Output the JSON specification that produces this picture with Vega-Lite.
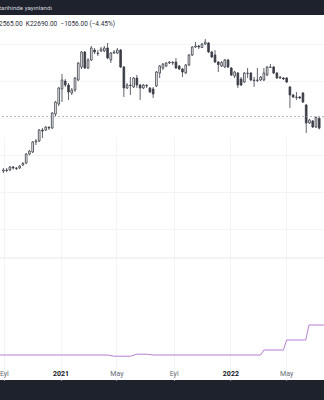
{
  "$schema": "https://vega.github.io/schema/vega-lite/v6.json",
  "width": 324,
  "height": 365,
  "autosize": {"type": "none"},
  "padding": {"top": 15, "bottom": 20, "left": 0, "right": 0},
  "background": "#1e222d",
  "config": {"view": {"fill": "#ffffff", "stroke": null}, "font": "Roboto"},
  "title": {
    "text": "tarihinde yayınlandı",
    "subtitle": "2565.00\u00a0\u00a0K22690.00\u00a0\u00a0−1056.00 (−4.45%)",
    "anchor": "start",
    "frame": "group",
    "align": "left",
    "offset": -12,
    "dx": -1,
    "font": "Roboto",
    "fontSize": 6.2,
    "fontWeight": "normal",
    "color": "#d1d4dc",
    "subtitleFont": "Roboto",
    "subtitleFontSize": 6.5,
    "subtitleColor": "#2a2e39",
    "subtitlePadding": 9
  },
  "datasets": {
    "candles": [
      {"d":"2020-08-31","o":18400,"h":18700,"l":18200,"c":18500},
      {"d":"2020-09-07","o":18500,"h":18700,"l":18300,"c":18450},
      {"d":"2020-09-14","o":18500,"h":18900,"l":18400,"c":18800},
      {"d":"2020-09-21","o":18800,"h":18900,"l":18550,"c":18700},
      {"d":"2020-09-28","o":18700,"h":18800,"l":18500,"c":18650},
      {"d":"2020-10-05","o":18700,"h":19000,"l":18600,"c":18900},
      {"d":"2020-10-12","o":19000,"h":19300,"l":18900,"c":19150},
      {"d":"2020-10-19","o":19200,"h":20200,"l":19100,"c":20100},
      {"d":"2020-10-26","o":20100,"h":20500,"l":19950,"c":20400},
      {"d":"2020-11-02","o":20300,"h":21400,"l":20200,"c":21300},
      {"d":"2020-11-09","o":21300,"h":21600,"l":21000,"c":21400},
      {"d":"2020-11-16","o":21400,"h":22600,"l":21300,"c":22500},
      {"d":"2020-11-23","o":22500,"h":22700,"l":21700,"c":22400},
      {"d":"2020-11-30","o":22500,"h":22900,"l":22400,"c":22800},
      {"d":"2020-12-07","o":22750,"h":22900,"l":22500,"c":22700},
      {"d":"2020-12-14","o":22700,"h":24300,"l":22600,"c":24200},
      {"d":"2020-12-21","o":24100,"h":25400,"l":23900,"c":25300},
      {"d":"2020-12-28","o":25100,"h":26800,"l":24900,"c":26700},
      {"d":"2021-01-04","o":26600,"h":28100,"l":25300,"c":27500},
      {"d":"2021-01-11","o":27400,"h":27600,"l":26800,"c":27000},
      {"d":"2021-01-18","o":27000,"h":27200,"l":25500,"c":26300},
      {"d":"2021-01-25","o":26200,"h":26700,"l":26000,"c":26500},
      {"d":"2021-02-01","o":26500,"h":27800,"l":26300,"c":27700},
      {"d":"2021-02-08","o":27500,"h":29300,"l":27400,"c":29200},
      {"d":"2021-02-15","o":28800,"h":30400,"l":28600,"c":30300},
      {"d":"2021-02-22","o":30300,"h":30400,"l":28600,"c":28700},
      {"d":"2021-03-01","o":28700,"h":29700,"l":28600,"c":29500},
      {"d":"2021-03-08","o":29500,"h":30900,"l":29400,"c":30700},
      {"d":"2021-03-15","o":30500,"h":30700,"l":30100,"c":30300},
      {"d":"2021-03-22","o":30200,"h":30500,"l":29900,"c":30150},
      {"d":"2021-03-29","o":30400,"h":30800,"l":30300,"c":30600},
      {"d":"2021-04-05","o":30400,"h":30900,"l":30300,"c":30700},
      {"d":"2021-04-12","o":30700,"h":31200,"l":29600,"c":29700},
      {"d":"2021-04-19","o":29500,"h":30300,"l":29200,"c":30200},
      {"d":"2021-04-26","o":30200,"h":30500,"l":30100,"c":30300},
      {"d":"2021-05-03","o":30200,"h":30700,"l":30100,"c":30500},
      {"d":"2021-05-10","o":30500,"h":30600,"l":28700,"c":28800},
      {"d":"2021-05-17","o":28800,"h":28900,"l":25800,"c":26700},
      {"d":"2021-05-24","o":26700,"h":27200,"l":26600,"c":27000},
      {"d":"2021-05-31","o":27000,"h":27800,"l":26000,"c":26950},
      {"d":"2021-06-07","o":26800,"h":27800,"l":26700,"c":27700},
      {"d":"2021-06-14","o":27700,"h":28000,"l":26700,"c":27000},
      {"d":"2021-06-21","o":27000,"h":27100,"l":25500,"c":26700},
      {"d":"2021-06-28","o":26700,"h":27100,"l":26600,"c":27000},
      {"d":"2021-07-05","o":26950,"h":27100,"l":26700,"c":26900},
      {"d":"2021-07-12","o":26700,"h":26800,"l":26200,"c":26300},
      {"d":"2021-07-19","o":26600,"h":26800,"l":25700,"c":26100},
      {"d":"2021-07-26","o":26900,"h":28400,"l":26800,"c":28300},
      {"d":"2021-08-02","o":28200,"h":29000,"l":27700,"c":28900},
      {"d":"2021-08-09","o":28700,"h":29200,"l":28500,"c":29100},
      {"d":"2021-08-16","o":28900,"h":29300,"l":28800,"c":29200},
      {"d":"2021-08-23","o":29200,"h":29400,"l":29100,"c":29300},
      {"d":"2021-08-30","o":29250,"h":29400,"l":29000,"c":29200},
      {"d":"2021-09-06","o":29300,"h":29700,"l":28600,"c":28700},
      {"d":"2021-09-13","o":28900,"h":29000,"l":28500,"c":28600},
      {"d":"2021-09-20","o":28600,"h":28700,"l":27800,"c":28300},
      {"d":"2021-09-27","o":28200,"h":29100,"l":28100,"c":29000},
      {"d":"2021-10-04","o":29000,"h":30100,"l":28900,"c":30000},
      {"d":"2021-10-11","o":30000,"h":30900,"l":29900,"c":30800},
      {"d":"2021-10-18","o":30800,"h":31300,"l":30700,"c":30900},
      {"d":"2021-10-25","o":30900,"h":31000,"l":30600,"c":30800},
      {"d":"2021-11-01","o":30750,"h":31200,"l":30700,"c":31100},
      {"d":"2021-11-08","o":31100,"h":31600,"l":31000,"c":31300},
      {"d":"2021-11-15","o":31200,"h":31300,"l":30200,"c":30300},
      {"d":"2021-11-22","o":30300,"h":30400,"l":29700,"c":29800},
      {"d":"2021-11-29","o":30000,"h":30500,"l":29200,"c":29300},
      {"d":"2021-12-06","o":29300,"h":29400,"l":28300,"c":29050},
      {"d":"2021-12-13","o":28900,"h":29400,"l":28800,"c":29250},
      {"d":"2021-12-20","o":28800,"h":29600,"l":28700,"c":29500},
      {"d":"2021-12-27","o":29500,"h":29600,"l":28700,"c":28800},
      {"d":"2022-01-03","o":28700,"h":28800,"l":27900,"c":28000},
      {"d":"2022-01-10","o":27900,"h":28400,"l":27700,"c":28300},
      {"d":"2022-01-17","o":28200,"h":28300,"l":26700,"c":27000},
      {"d":"2022-01-24","o":27600,"h":27800,"l":26900,"c":27000},
      {"d":"2022-01-31","o":27300,"h":28300,"l":27200,"c":28200},
      {"d":"2022-02-07","o":28150,"h":28700,"l":27700,"c":28200},
      {"d":"2022-02-14","o":28200,"h":28300,"l":27400,"c":27500},
      {"d":"2022-02-21","o":27500,"h":27800,"l":26800,"c":27450},
      {"d":"2022-02-28","o":27450,"h":28700,"l":27300,"c":27500},
      {"d":"2022-03-07","o":27500,"h":27900,"l":27400,"c":27800},
      {"d":"2022-03-14","o":27500,"h":28700,"l":27400,"c":28200},
      {"d":"2022-03-21","o":28000,"h":28900,"l":27900,"c":28800},
      {"d":"2022-03-28","o":28750,"h":29100,"l":28700,"c":28800},
      {"d":"2022-04-04","o":28800,"h":28900,"l":28100,"c":28200},
      {"d":"2022-04-11","o":28200,"h":28300,"l":27600,"c":27700},
      {"d":"2022-04-18","o":27700,"h":27900,"l":27600,"c":27800},
      {"d":"2022-04-25","o":27700,"h":27800,"l":27500,"c":27600},
      {"d":"2022-05-02","o":27700,"h":27800,"l":27200,"c":27300},
      {"d":"2022-05-09","o":26800,"h":26900,"l":24700,"c":26000},
      {"d":"2022-05-16","o":26000,"h":26100,"l":25700,"c":25800},
      {"d":"2022-05-23","o":25800,"h":26300,"l":25500,"c":25750},
      {"d":"2022-05-30","o":25800,"h":25900,"l":25600,"c":25700},
      {"d":"2022-06-06","o":26200,"h":26300,"l":25200,"c":25300},
      {"d":"2022-06-13","o":25000,"h":25100,"l":22200,"c":23200},
      {"d":"2022-06-20","o":23200,"h":23600,"l":23100,"c":23500},
      {"d":"2022-06-27","o":23400,"h":23500,"l":22700,"c":22800},
      {"d":"2022-07-04","o":22800,"h":23850,"l":22700,"c":23750},
      {"d":"2022-07-11","o":23650,"h":23850,"l":22565,"c":22690}
    ],
    "rate": [
      {"d":"2020-08-24","r":0.25},
      {"d":"2021-04-12","r":0.25},
      {"d":"2021-04-26","r":0.19},
      {"d":"2021-05-31","r":0.19},
      {"d":"2021-06-14","r":0.29},
      {"d":"2021-07-05","r":0.29},
      {"d":"2021-07-19","r":0.25},
      {"d":"2022-03-07","r":0.25},
      {"d":"2022-03-14","r":0.5},
      {"d":"2022-04-25","r":0.5},
      {"d":"2022-05-02","r":1.0},
      {"d":"2022-06-12","r":1.0},
      {"d":"2022-06-19","r":1.75},
      {"d":"2022-07-25","r":1.75}
    ]
  },
  "layer": [
    {
      "data": {"name": "candles"},
      "layer": [
        {
          "mark": {"type": "rule", "color": "#3b3e48", "strokeWidth": 0.8, "clip": true},
          "encoding": {
            "x": {
              "field": "d", "type": "temporal",
              "scale": {"type": "utc", "domain": [{"year": 2020, "month": 9, "date": 3, "hours": 12, "utc": true}, {"year": 2022, "month": 7, "date": 10, "hours": 12, "utc": true}]},
              "axis": {
                "values": [
                  {"year": 2020, "month": 9, "date": 1, "utc": true},
                  {"year": 2021, "month": 1, "date": 1, "utc": true},
                  {"year": 2021, "month": 5, "date": 1, "utc": true},
                  {"year": 2021, "month": 9, "date": 1, "utc": true},
                  {"year": 2022, "month": 1, "date": 1, "utc": true},
                  {"year": 2022, "month": 5, "date": 1, "utc": true}
                ],
                "labelExpr": "utcmonth(datum.value) == 0 ? utcFormat(datum.value, '%Y') : ['Oca','Şub','Mar','Nis','May','Haz','Tem','Ağu','Eyl','Eki','Kas','Ara'][utcmonth(datum.value)]",
                "labelFontWeight": {"condition": {"test": "utcmonth(datum.value) == 0", "value": "bold"}, "value": "normal"},
                "labelColor": {"condition": {"test": "utcmonth(datum.value) == 0", "value": "#131722"}, "value": "#6a6d78"},
                "labelFont": "Roboto",
                "labelFontSize": 7,
                "labelAlign": "center",
                "labelBaseline": "middle",
                "labelPadding": -7,
                "ticks": false,
                "tickSize": 0,
                "domain": false,
                "gridColor": "#f2f4f9",
                "gridWidth": 1,
                "title": null,
                "labelFlush": false,
                "labelOverlap": false,
                "labelBound": false
              }
            },
            "y": {
              "field": "l", "type": "quantitative",
              "scale": {"domain": [9700, 34000], "range": [243, 0], "zero": false, "nice": false},
              "axis": {
                "values": [12600, 14450, 16300, 18150, 20000, 21850, 23700, 25550, 27400, 29250, 31100, 32950],
                "labels": false, "ticks": false, "domain": false, "title": null,
                "gridColor": "#f2f4f9", "gridWidth": 1
              }
            },
            "y2": {"field": "h"}
          }
        },
        {
          "mark": {"type": "bar", "width": 1.7, "stroke": "#3b3e48", "strokeWidth": 0.8, "clip": true},
          "encoding": {
            "x": {"field": "d", "type": "temporal"},
            "y": {"field": "o", "type": "quantitative"},
            "y2": {"field": "c"},
            "fill": {"condition": {"test": "datum.c < datum.o", "value": "#3b3e48"}, "value": "#ffffff"}
          }
        },
        {
          "data": {"values": [{"ref": 23850}]},
          "mark": {"type": "rule", "color": "#9598a1", "strokeDash": [2, 2], "strokeWidth": 0.7},
          "encoding": {"y": {"field": "ref", "type": "quantitative"}}
        },
        {
          "data": {"values": [{"ref": 9700}]},
          "mark": {"type": "rule", "color": "#e6e8ee", "strokeWidth": 1},
          "encoding": {"y": {"field": "ref", "type": "quantitative"}}
        }
      ]
    },
    {
      "data": {"name": "rate"},
      "mark": {"type": "line", "color": "#b87fd0", "strokeWidth": 1, "clip": true},
      "encoding": {
        "x": {"field": "d", "type": "temporal"},
        "y": {
          "field": "r", "type": "quantitative",
          "scale": {"domain": [-1, 5.1], "range": [365, 243], "zero": false, "nice": false},
          "axis": {
            "values": [2.2, 3.175, 4.15],
            "labels": false, "ticks": false, "domain": false, "title": null,
            "gridColor": "#f2f4f9", "gridWidth": 1, "orient": "right"
          }
        }
      }
    }
  ],
  "resolve": {"scale": {"y": "independent"}}
}
